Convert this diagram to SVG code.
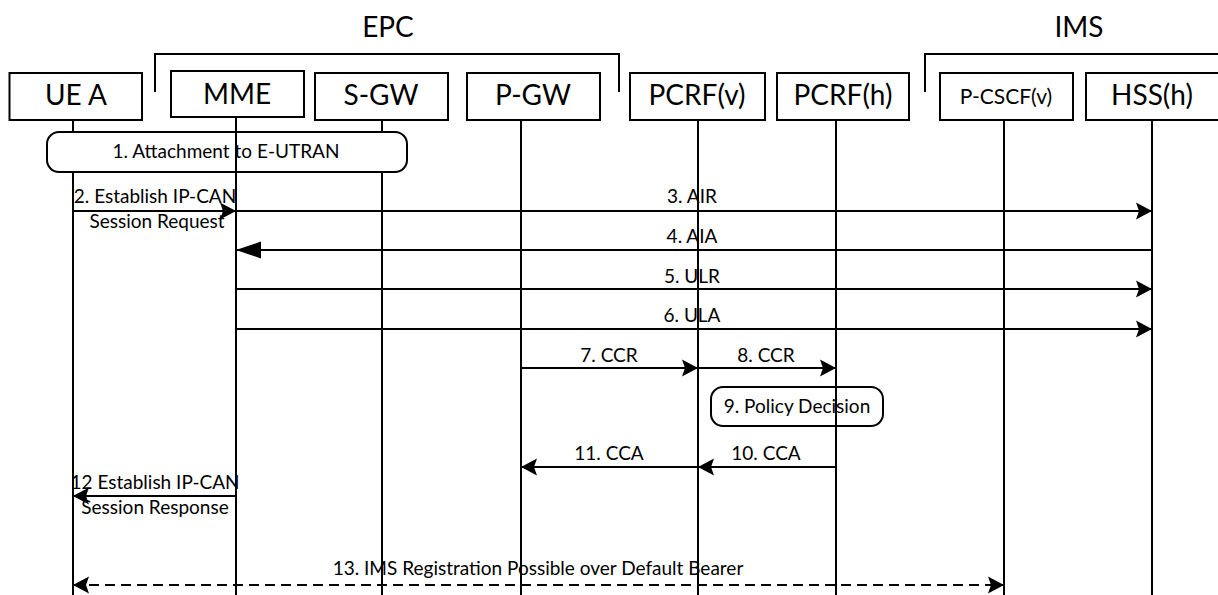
<svg xmlns="http://www.w3.org/2000/svg" width="1218" height="595" viewBox="0 0 1218 595">
<style>
  .box { fill: #fff; stroke: #000; stroke-width: 2; }
  .life { stroke: #000; stroke-width: 2; fill: none; }
  .msg { stroke: #000; stroke-width: 2; fill: none; }
  .dash { stroke-dasharray: 10 6; }
  .bracket { stroke: #000; stroke-width: 2; fill: none; }
  .note { fill: #fff; stroke: #000; stroke-width: 2; }
  text { font-family: Lato, "Open Sans", "Liberation Sans", sans-serif; fill: #000; text-anchor: middle; }
  .big { font-size: 28px; }
  .mid { font-size: 21px; }
  .lbl { font-size: 19px; }
  .grp { font-size: 28px; }
</style>
<defs>
  <marker id="ah" markerUnits="userSpaceOnUse" markerWidth="16" markerHeight="18" refX="16" refY="9" orient="auto-start-reverse" viewBox="0 0 16 18">
    <path d="M0,0.5 L16,9 L0,17.5 L3,9 z" fill="#000"/>
  </marker>
  <marker id="ahBig" markerUnits="userSpaceOnUse" markerWidth="25" markerHeight="18" refX="25" refY="9" orient="auto" viewBox="0 0 25 18">
    <path d="M0,0.5 L25,9 L0,17.5 z" fill="#000"/>
  </marker>
</defs>

<g id="groups">
  <text class="grp" x="388" y="37">EPC</text>
  <path class="bracket" d="M155,92 V54 H619 V92"/>
  <text class="grp" x="1079" y="37">IMS</text>
  <path class="bracket" d="M925,92 V54 H1220"/>
</g>

<g id="lifelines">
  <line class="life" x1="73" y1="120" x2="73" y2="595"/>
  <line class="life" x1="382" y1="120" x2="382" y2="595"/>
  <line class="life" x1="521" y1="120" x2="521" y2="595"/>
  <line class="life" x1="698" y1="120" x2="698" y2="595"/>
  <line class="life" x1="1004" y1="120" x2="1004" y2="595"/>
  <line class="life" x1="1152" y1="120" x2="1152" y2="595"/>
</g>

<g id="note1">
  <rect class="note" x="47" y="132" width="360" height="40" rx="12"/>
  <text class="lbl" x="226" y="158">1. Attachment to E-UTRAN</text>
</g>

<g id="note9">
  <rect class="note" x="711" y="387" width="172" height="39" rx="12"/>
  <text class="lbl" x="797" y="413">9. Policy Decision</text>
</g>

<g id="lifelines-over">
  <line class="life" x1="236" y1="117" x2="236" y2="595"/>
  <line class="life" x1="836" y1="120" x2="836" y2="595"/>
</g>

<g id="ueA">
  <rect class="box" x="9.5" y="73" width="132.5" height="47"/>
  <text class="big" x="76" y="105">UE A</text>
</g>
<g id="mme">
  <rect class="box" x="171" y="71" width="133" height="46"/>
  <text class="big" x="237" y="104">MME</text>
</g>
<g id="sgw">
  <rect class="box" x="315" y="73" width="133" height="47"/>
  <text class="big" x="381" y="105">S-GW</text>
</g>
<g id="pgw">
  <rect class="box" x="467" y="73" width="133" height="47"/>
  <text class="big" x="533" y="105">P-GW</text>
</g>
<g id="pcrfv">
  <rect class="box" x="630" y="73" width="135" height="47"/>
  <text class="big" x="697" y="105">PCRF(v)</text>
</g>
<g id="pcrfh">
  <rect class="box" x="777" y="73" width="132" height="47"/>
  <text class="big" x="843" y="105">PCRF(h)</text>
</g>
<g id="pcscf">
  <rect class="box" x="940" y="73" width="133" height="47"/>
  <text class="mid" x="1006" y="104">P-CSCF(v)</text>
</g>
<g id="hss">
  <rect class="box" x="1086" y="73" width="140" height="47"/>
  <text class="big" x="1152" y="105">HSS(h)</text>
</g>

<g id="connectors">
  <line class="msg" x1="73" y1="211" x2="236" y2="211" marker-end="url(#ah)"/>
  <text class="lbl" x="155" y="203">2. Establish IP-CAN</text>
  <text class="lbl" x="157" y="228">Session Request</text>

  <line class="msg" x1="236" y1="211" x2="1152" y2="211" marker-end="url(#ah)"/>
  <text class="lbl" x="692" y="203">3. AIR</text>

  <line class="msg" x1="1152" y1="250" x2="236" y2="250" marker-end="url(#ahBig)"/>
  <text class="lbl" x="692" y="243">4. AIA</text>

  <line class="msg" x1="236" y1="289" x2="1152" y2="289" marker-end="url(#ah)"/>
  <text class="lbl" x="692" y="283">5. ULR</text>

  <line class="msg" x1="236" y1="329" x2="1152" y2="329" marker-end="url(#ah)"/>
  <text class="lbl" x="692" y="322">6. ULA</text>

  <line class="msg" x1="521" y1="368" x2="698" y2="368" marker-end="url(#ah)"/>
  <text class="lbl" x="609" y="362">7. CCR</text>

  <line class="msg" x1="698" y1="368" x2="836" y2="368" marker-end="url(#ah)"/>
  <text class="lbl" x="766" y="362">8. CCR</text>

  <line class="msg" x1="836" y1="467" x2="698" y2="467" marker-end="url(#ah)"/>
  <text class="lbl" x="766" y="460">10. CCA</text>

  <line class="msg" x1="698" y1="467" x2="521" y2="467" marker-end="url(#ah)"/>
  <text class="lbl" x="609" y="460">11. CCA</text>

  <line class="msg" x1="236" y1="496" x2="73" y2="496" marker-end="url(#ah)"/>
  <text class="lbl" x="155" y="489">12 Establish IP-CAN</text>
  <text class="lbl" x="155" y="514">Session Response</text>

  <line class="msg dash" x1="73" y1="585" x2="1004" y2="585" marker-start="url(#ah)" marker-end="url(#ah)"/>
  <text class="lbl" x="538" y="575">13. IMS Registration Possible over Default Bearer</text>
</g>
</svg>
